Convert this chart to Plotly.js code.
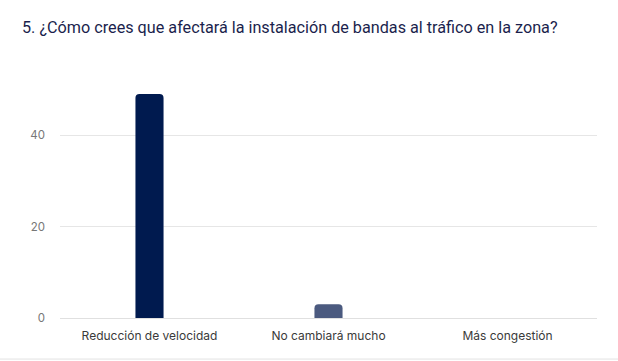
<!DOCTYPE html>
<html><head><meta charset="utf-8">
<script src="https://cdn.plot.ly/plotly-3.0.1.min.js"></script>
<style>html,body{margin:0;padding:0;background:#fff;}#c{width:618px;height:361px;}</style>
</head><body><div id="c"></div>
<script>
const categories = ["Reducción de velocidad", "No cambiará mucho", "Más congestión"];
const values = [49, 3, 0];
const barColors = ["#001a4f", "#4b5a7f", "#8a94ad"];
const yTicks = [0, 20, 40];

const data = [{
  type: "bar",
  x: categories,
  y: values,
  marker: {color: barColors},
  width: 0.157,
  hoverinfo: "x+y"
}];

const layout = {
  width: 618, height: 361,
  margin: {l: 60, r: 21, t: 82, b: 43},
  paper_bgcolor: "#ffffff", plot_bgcolor: "#ffffff",
  barcornerradius: 4,
  font: {family: "Inter, Roboto, sans-serif", color: "#6b6b6b", size: 12},
  title: {text: "5. ¿Cómo crees que afectará la instalación de bandas al tráfico en la zona?",
          x: 22/618, xref: "container", xanchor: "left", y: 0.925, yanchor: "middle",
          font: {family: "Roboto, Inter, sans-serif", size: 16.2, color: "#1b1f4d"}},
  xaxis: {showgrid: false, showline: false, zeroline: false, ticks: "", ticklabelstandoff: 9,
          tickfont: {size: 12, color: "#3a3a3a", family: "Inter, Roboto, sans-serif"}, fixedrange: true},
  yaxis: {range: [0, 51.6], tickvals: yTicks, showgrid: true, gridcolor: "#e6e6e6", gridwidth: 1,
          zeroline: true, zerolinecolor: "#e0e0e0", zerolinewidth: 1, showline: false, ticks: "",
          ticklabelstandoff: 14, tickfont: {size: 11.5, color: "#777777"}, fixedrange: true},
  shapes: [{type: "line", xref: "paper", yref: "paper", x0: -0.12, x1: 1.05, y0: -0.174, y1: -0.174,
            line: {color: "#e2e2e2", width: 1}}],
  showlegend: false
};
Plotly.newPlot("c", data, layout, {displayModeBar: false, staticPlot: true});
</script></body></html>
